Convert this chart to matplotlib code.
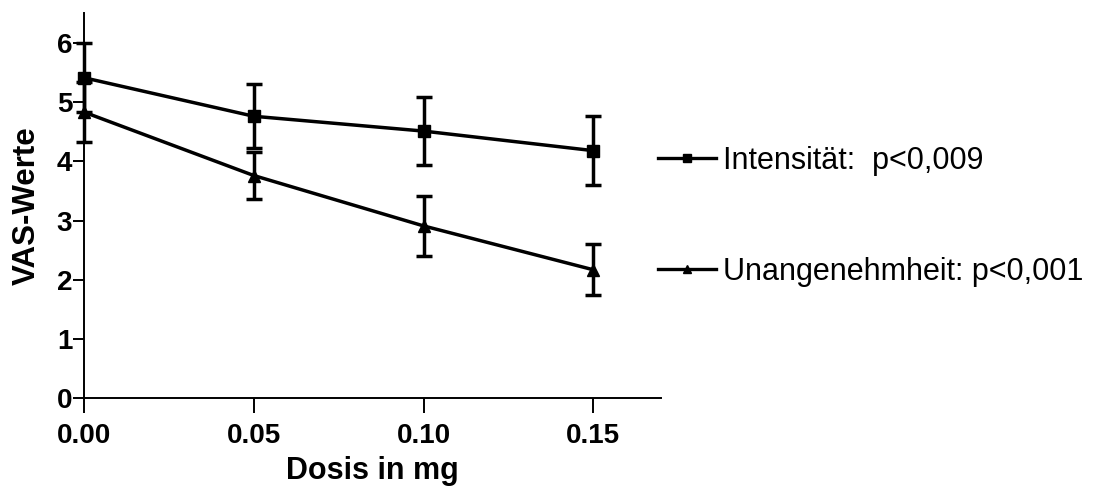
import numpy as np
import matplotlib
matplotlib.use("Agg")
import matplotlib.pyplot as plt
from matplotlib.lines import Line2D

plt.rcParams['font.family'] = ['Liberation Sans', 'DejaVu Sans']

# dose in mg
dose = [0.00, 0.05, 0.10, 0.15]

# VAS values (mean and SEM)
intensitaet = [5.41, 4.76, 4.51, 4.18]
intensitaet_err = [0.58, 0.54, 0.57, 0.58]
unangenehm = [4.83, 3.76, 2.91, 2.17]
unangenehm_err = [0.50, 0.40, 0.50, 0.43]

labels = ["Intensität:  p<0,009", "Unangenehmheit: p<0,001"]

fig = plt.figure(figsize=(10.93, 4.87), dpi=100)
ax = fig.add_axes([0.0769, 0.182, 0.528, 0.791])

ax.errorbar(dose, intensitaet, yerr=intensitaet_err, color="black",
            marker="s", markersize=9, linewidth=2.5, elinewidth=2.5,
            capsize=5.5, capthick=2.5, clip_on=False, zorder=3)
ax.errorbar(dose, unangenehm, yerr=unangenehm_err, color="black",
            marker="^", markersize=8, linewidth=2.5, elinewidth=2.5,
            capsize=5.5, capthick=2.5, clip_on=False, zorder=3)

ax.set_xlim(0, 0.17)
ax.set_ylim(0, 6.5)
ax.set_xticks([0.00, 0.05, 0.10, 0.15])
ax.set_xticklabels(["0.00", "0.05", "0.10", "0.15"])
ax.set_yticks(range(0, 7))

for s in ["top", "right"]:
    ax.spines[s].set_visible(False)
for s in ["left", "bottom"]:
    ax.spines[s].set_linewidth(1.4)

ax.tick_params(axis="both", direction="out", width=1.4, labelsize=20)
ax.tick_params(axis="y", length=8, pad=0.5)
ax.tick_params(axis="x", length=11, pad=7)
for lab in ax.get_xticklabels() + ax.get_yticklabels():
    lab.set_fontweight("bold")

ax.set_xlabel("Dosis in mg", fontsize=22, fontweight="bold", labelpad=5)
ax.set_ylabel("VAS-Werte", fontsize=22.5, fontweight="bold", labelpad=11)

lh1 = Line2D([], [], color="black", marker="s", markersize=6, linewidth=2.4)
lh2 = Line2D([], [], color="black", marker="^", markersize=6, linewidth=2.4)
fig.legend([lh1, lh2], labels, loc="upper left",
           bbox_to_anchor=(658 / 1093, 1 - 146 / 487),
           frameon=False, fontsize=22, labelspacing=2.64,
           handlelength=1.9, handletextpad=0.23, borderpad=0,
           borderaxespad=0)

fig.savefig("out.png", dpi=100)
